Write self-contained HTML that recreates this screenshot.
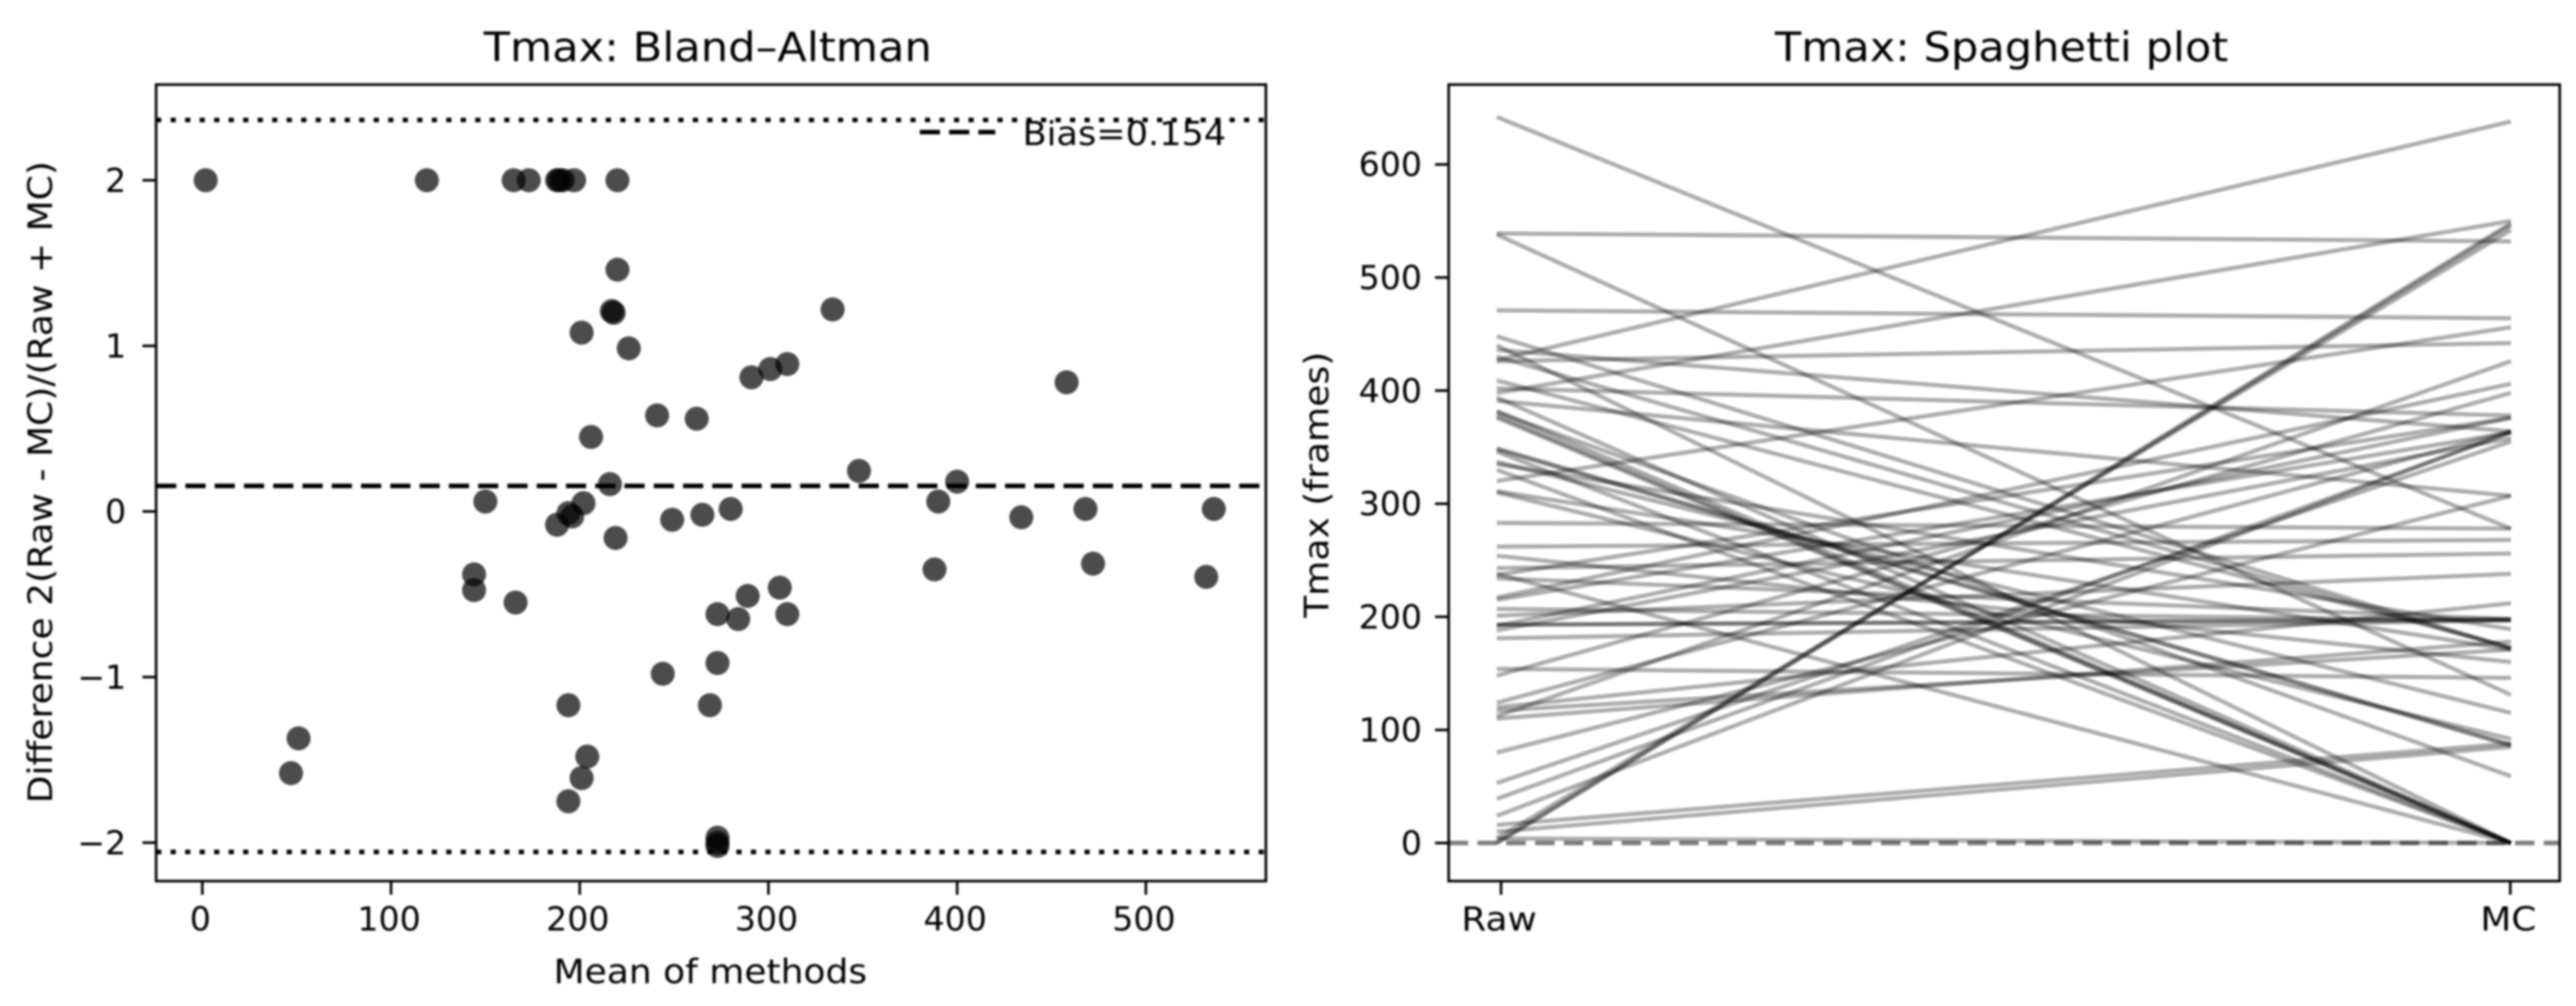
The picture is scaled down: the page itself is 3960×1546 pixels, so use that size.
<!DOCTYPE html>
<html lang="en">
<head>
<meta charset="utf-8">
<title>Tmax: Bland–Altman and Spaghetti plot</title>
<style>
html,body{margin:0;padding:0;background:#fff;width:3960px;height:1546px;overflow:hidden}
svg{display:block;filter:blur(1.5px)}
text{font-family:"DejaVu Sans","Liberation Sans",sans-serif;fill:#000}
</style>
</head>
<body>
<svg id="figure" xmlns="http://www.w3.org/2000/svg" width="3960" height="1546" viewBox="0 0 3960 1546">
  <defs>
    <clipPath id="clip-left"><rect x="240" y="130" width="1706" height="1224"/></clipPath>
    <clipPath id="clip-right"><rect x="2227" y="130" width="1708" height="1224"/></clipPath>
  </defs>
  <g id="left-panel">
    <text x="1088" y="94" font-size="62" text-anchor="middle" textLength="689" lengthAdjust="spacingAndGlyphs">Tmax: Bland–Altman</text>
    <text x="1092" y="1511" font-size="52" text-anchor="middle" textLength="482" lengthAdjust="spacingAndGlyphs">Mean of methods</text>
    <text transform="translate(80,741) rotate(-90)" font-size="52" text-anchor="middle" textLength="987" lengthAdjust="spacingAndGlyphs">Difference 2(Raw - MC)/(Raw + MC)</text>
    <g id="left-ticks"></g>
    <g id="left-marks" clip-path="url(#clip-left)"></g>
    <g>
      <line x1="1414" y1="203" x2="1530" y2="203" stroke="#000" stroke-width="7" stroke-dasharray="31 14"/>
      <text x="1572" y="223" font-size="51" textLength="313" lengthAdjust="spacingAndGlyphs">Bias=0.154</text>
    </g>
    <rect x="240" y="130" width="1706" height="1224" fill="none" stroke="#000" stroke-width="4"/>
  </g>
  <g id="right-panel">
    <text x="3077" y="94" font-size="62" text-anchor="middle" textLength="697" lengthAdjust="spacingAndGlyphs">Tmax: Spaghetti plot</text>
    <text transform="translate(2042,745) rotate(-90)" font-size="52" text-anchor="middle" textLength="409" lengthAdjust="spacingAndGlyphs">Tmax (frames)</text>
    <g id="right-ticks"></g>
    <g id="right-marks" clip-path="url(#clip-right)"></g>
    <rect x="2227" y="130" width="1708" height="1224" fill="none" stroke="#000" stroke-width="4"/>
  </g>
</svg>
<script>
// Bland-Altman data
const meanValues = [1.8,119,165,173,188,189,191,197,220,220,217,218,201,226,334,310,301,291,458,241,262,206,348,400,216,150,202,194,196,188,219,249,265,280,390,434,468,536,472,532,388,144,144,166,273,284,289,306,310,273,244,194,269,51,47,204,201,194,273,273,273];
const diffValues = [2,2,2,2,2,2,2,2,2,1.46,1.21,1.2,1.08,0.985,1.22,0.89,0.86,0.81,0.78,0.58,0.56,0.45,0.245,0.18,0.165,0.06,0.05,-0.01,-0.03,-0.08,-0.16,-0.05,-0.02,0.015,0.06,-0.035,0.015,0.015,-0.315,-0.395,-0.35,-0.38,-0.475,-0.55,-0.62,-0.65,-0.51,-0.46,-0.62,-0.915,-0.98,-1.17,-1.17,-1.37,-1.58,-1.48,-1.61,-1.75,-1.97,-2.0,-2.02];
const biasValue = 0.154;
const limitValues = [2.364,-2.056];
const meanTicks = [0,100,200,300,400,500];
const diffTicks = [2,1,0,-1,-2];

// Spaghetti data
const rawValues = [4,238,330,346,376,378,382,394,440,381,348,349,310,337,538,448,430,409,642,311,335,254,391,436,234,154,207,193,193,181,201,243,262,283,402,426,471,539,398,427,320,117,110,120,188,192,215,237,217,148,124,80,112,16,10,53,39,24,4,0,0];
const mcValues = [0,0,0,0,0,0,0,0,0,59,86,87,92,115,131,172,172,173,278,171,189,160,307,364,198,146,197,197,198,197,238,256,268,278,378,442,464,532,550,638,456,171,178,212,358,376,363,376,406,398,364,307,426,88,85,355,363,364,542,546,548];
const methodLabels = ['Raw','MC'];
const tmaxTicks = [0,100,200,300,400,500,600];

const NS = 'http://www.w3.org/2000/svg';
const xMean = v => 311 + v * 2.901;
const yDiff = v => 786 - v * 254.5;
const xMethod = i => 2307.5 + i * 1551.5;
const xSeries = i => 2301 + i * 1559;
const yTmax = v => 1295.5 - v * 1.738;
const NAME_WIDEN = 1.08;

function make(parent, tag, attrs) {
  const el = document.createElementNS(NS, tag);
  for (const k in attrs) el.setAttribute(k, attrs[k]);
  parent.appendChild(el);
  return el;
}
function widen(label) {
  label.setAttribute('textLength', (label.getComputedTextLength() * NAME_WIDEN).toFixed(1));
  label.setAttribute('lengthAdjust', 'spacingAndGlyphs');
}

const leftMarks = document.getElementById('left-marks');
const leftTicks = document.getElementById('left-ticks');
const rightMarks = document.getElementById('right-marks');
const rightTicks = document.getElementById('right-ticks');

limitValues.forEach(function (v) {
  const limit = make(leftMarks, 'line', {x1: 240, x2: 1946, y1: yDiff(v), y2: yDiff(v), stroke: '#000', 'stroke-width': 7, 'stroke-dasharray': '8 14.3'});
  
  
});
const biasLine = make(leftMarks, 'line', {x1: 240, x2: 1946, y1: yDiff(biasValue), y2: yDiff(biasValue), stroke: '#000', 'stroke-width': 7, 'stroke-dasharray': '31 14'});



meanValues.forEach(function (m, i) {
  const pt = make(leftMarks, 'circle', {cx: xMean(m), cy: yDiff(diffValues[i]), r: 18.5, fill: '#000', 'fill-opacity': 0.7});
  
  
});

meanTicks.forEach(function (v) {
  const tick = make(leftTicks, 'line', {x1: xMean(v), x2: xMean(v), y1: 1354, y2: 1375, stroke: '#000', 'stroke-width': 4});
  
  
  const label = make(leftTicks, 'text', {x: xMean(v) - 3, y: 1430, 'font-size': 51, 'text-anchor': 'middle'});
  
  
  label.textContent = String(v);
});
diffTicks.forEach(function (v) {
  const tick = make(leftTicks, 'line', {x1: 219, x2: 240, y1: yDiff(v), y2: yDiff(v), stroke: '#000', 'stroke-width': 4});
  
  
  const label = make(leftTicks, 'text', {x: 194, y: yDiff(v) + 18, 'font-size': 51, 'text-anchor': 'end'});
  
  
  label.textContent = String(v).replace('-', '\u2212');
});

rawValues.forEach(function (r, i) {
  const ln = make(rightMarks, 'line', {x1: xSeries(0), x2: xSeries(1), y1: yTmax(r), y2: yTmax(mcValues[i]), stroke: '#000', 'stroke-opacity': 0.32, 'stroke-width': 6.5});
  
  
});
const zeroLine = make(rightMarks, 'line', {x1: 2227, x2: 3935, y1: yTmax(0), y2: yTmax(0), stroke: '#000', 'stroke-opacity': 0.5, 'stroke-width': 7, 'stroke-dasharray': '30 14.3'});



tmaxTicks.forEach(function (v) {
  const tick = make(rightTicks, 'line', {x1: 2206, x2: 2227, y1: yTmax(v), y2: yTmax(v), stroke: '#000', 'stroke-width': 4});
  
  
  const label = make(rightTicks, 'text', {x: 2186, y: yTmax(v) + 18, 'font-size': 51, 'text-anchor': 'end'});
  
  
  label.textContent = String(v);
});
methodLabels.forEach(function (name, i) {
  const tick = make(rightTicks, 'line', {x1: xMethod(i), x2: xMethod(i), y1: 1354, y2: 1375, stroke: '#000', 'stroke-width': 4});
  
  
  const label = make(rightTicks, 'text', {x: xMethod(i) - 3, y: 1430, 'font-size': 51, 'text-anchor': 'middle'});
  
  
  label.textContent = name;
  widen(label);
});
</script>
</body>
</html>
